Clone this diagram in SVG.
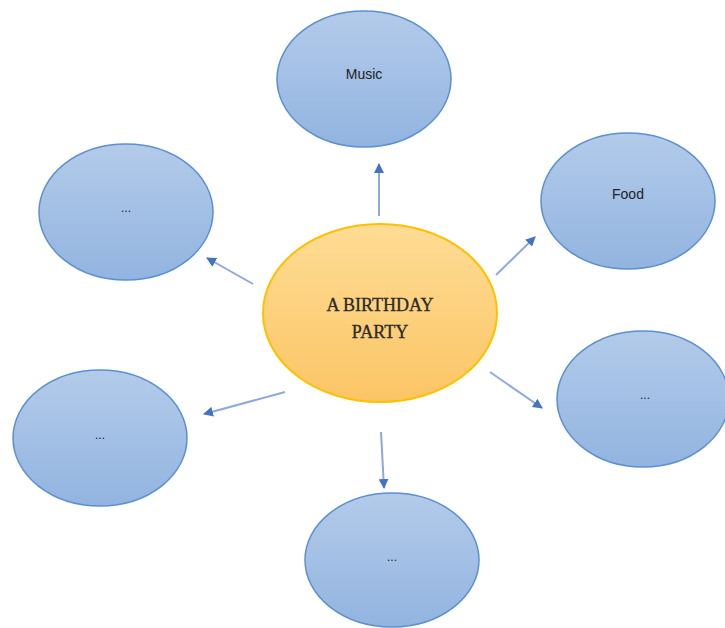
<svg xmlns="http://www.w3.org/2000/svg" width="725" height="628" viewBox="0 0 725 628">
<defs>
<linearGradient id="blue" x1="0" y1="0" x2="0" y2="1">
<stop offset="0" stop-color="#b3cbea"/>
<stop offset="1" stop-color="#92b4e0"/>
</linearGradient>
<linearGradient id="orange" x1="0" y1="0" x2="0" y2="1">
<stop offset="0" stop-color="#fedc95"/>
<stop offset="1" stop-color="#fbc565"/>
</linearGradient>
<marker id="arr" viewBox="0 0 10 10" refX="9" refY="5" markerWidth="5" markerHeight="5" orient="auto" markerUnits="strokeWidth">
<path d="M0,0 L10,5 L0,10 Z" fill="#4472c4"/>
</marker>
<style>
.sat{fill:url(#blue);stroke:#5b8fd0;stroke-width:1.5}
.lbl{font-family:"Liberation Sans",Arial,sans-serif;font-size:14px;fill:#222;text-anchor:middle}
.dots{font-family:"Liberation Sans",Arial,sans-serif;font-size:12px;fill:#222;text-anchor:middle}
.ctr{font-family:"Liberation Serif","Times New Roman",serif;font-size:18px;fill:#2a2a2a;text-anchor:middle;stroke:#2a2a2a;stroke-width:0.3}
.conn line{stroke:#8fa8dc;stroke-width:2;marker-end:url(#arr)}
</style>
</defs>
<rect width="725" height="628" fill="#fff"/>
<g id="center">
<ellipse cx="380" cy="313" rx="117" ry="89" fill="url(#orange)" stroke="#ffc000" stroke-width="2"/>
<text class="ctr" x="380" y="311">A BIRTHDAY</text>
<text class="ctr" x="380" y="338">PARTY</text>
</g>
<g id="music"><ellipse class="sat" cx="364" cy="79" rx="87" ry="68"/><text class="lbl" x="364" y="79">Music</text></g>
<g id="food"><ellipse class="sat" cx="628" cy="201" rx="87" ry="68"/><text class="lbl" x="628" y="199">Food</text></g>
<g id="topleft"><ellipse class="sat" cx="126" cy="212" rx="87" ry="68"/><text class="dots" x="126" y="212">...</text></g>
<g id="right"><ellipse class="sat" cx="643" cy="399" rx="86" ry="68"/><text class="dots" x="645" y="399">...</text></g>
<g id="bottomleft"><ellipse class="sat" cx="100" cy="438" rx="87" ry="68"/><text class="dots" x="100" y="439">...</text></g>
<g id="bottom"><ellipse class="sat" cx="392" cy="560" rx="87" ry="67"/><text class="dots" x="392" y="561">...</text></g>
<g id="connectors" class="conn">
<line x1="379" y1="216" x2="379" y2="164"/>
<line x1="496" y1="275" x2="535" y2="237"/>
<line x1="490" y1="372" x2="542" y2="408"/>
<line x1="381" y1="432" x2="384" y2="488"/>
<line x1="285" y1="392" x2="204" y2="414"/>
<line x1="253" y1="284" x2="207" y2="258"/>
</g>
</svg>
